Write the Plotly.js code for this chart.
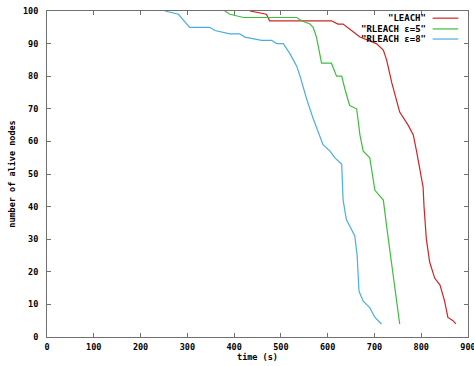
<!DOCTYPE html>
<html><head><meta charset="utf-8">
<script src="https://cdn.plot.ly/plotly-3.0.1.min.js"></script>
<style>html,body{margin:0;padding:0;background:#fff}#c{width:474px;height:366px}</style>
</head><body><div id="c"></div>
<script>
const seriesNames = ['"LEACH"', '"RLEACH \u03b5=5"', '"RLEACH \u03b5=8"'];
const seriesColors = ['#d02424', '#3cbf3c', '#4aaee0'];

const leachT = [434, 469, 476, 608, 622, 633, 651, 669, 687, 704, 719, 726, 737, 747, 754, 772, 783, 790, 797, 804, 806, 811, 818, 829, 840, 850, 857, 868, 874];
const leachV = [100, 99, 97, 97, 96, 96, 94, 92, 91, 90, 88, 85, 78, 73, 69, 65, 62, 57, 51, 46, 40, 30, 23, 18, 16, 11, 6, 5, 4];

const r5T = [380, 391, 420, 534, 544, 562, 569, 576, 587, 608, 619, 630, 637, 647, 662, 669, 676, 690, 701, 719, 726, 736, 747, 754];
const r5V = [100, 99, 98, 98, 97, 96, 95, 92, 84, 84, 80, 80, 76, 71, 70, 62, 57, 55, 45, 42, 34, 23, 12, 4];

const r8T = [252, 281, 305, 348, 359, 391, 412, 423, 459, 480, 491, 505, 519, 534, 541, 555, 569, 590, 605, 615, 630, 633, 640, 658, 663, 667, 676, 690, 701, 715];
const r8V = [100, 99, 95, 95, 94, 93, 93, 92, 91, 91, 90, 90, 87, 83, 80, 73, 67, 59, 57, 55, 53, 42, 36, 31, 25, 14, 11, 9, 6, 4];

const xTicks = [0, 100, 200, 300, 400, 500, 600, 700, 800, 900];
const yTicks = [0, 10, 20, 30, 40, 50, 60, 70, 80, 90, 100];

const xs = [leachT, r5T, r8T];
const ys = [leachV, r5V, r8V];

const traces = xs.map((x, i) => ({
  x: x, y: ys[i], type: 'scatter', mode: 'lines',
  name: seriesNames[i],
  line: {color: seriesColors[i], width: 1.2},
  showlegend: false
}));

const font = {family: 'DejaVu Sans Mono, monospace', size: 8.5, color: '#000', weight: 'bold'};

// manual gnuplot-style key (text left of sample line)
const keyY = [0.978, 0.945, 0.914];
const annotations = seriesNames.map((n, i) => ({
  xref: 'paper', yref: 'paper', x: 0.906, y: keyY[i],
  xanchor: 'right', yanchor: 'middle', text: n, showarrow: false,
  font: {family: 'DejaVu Sans Mono, monospace', size: 9, color: '#000', weight: 'bold'}
}));
const shapes = seriesNames.map((n, i) => ({
  type: 'line', xref: 'paper', yref: 'paper',
  x0: 0.916, x1: 0.977, y0: keyY[i], y1: keyY[i],
  line: {color: seriesColors[i], width: 1.2}
}));

const axisCommon = {
  showgrid: false, zeroline: false, showline: true, linecolor: '#707070', linewidth: 1,
  ticks: 'inside', ticklen: 4, tickcolor: '#707070', mirror: 'ticks',
  tickfont: font, ticklabeloverflow: 'allow'
};

const layout = {
  width: 474, height: 366,
  margin: {l: 47, r: 6, t: 11, b: 29},
  paper_bgcolor: '#fff', plot_bgcolor: '#fff',
  xaxis: Object.assign({}, axisCommon, {
    range: [0, 900], tickvals: xTicks, ticktext: xTicks.map(String),
    title: {text: 'time (s)', font: font, standoff: 2}, ticklabelstandoff: 2
  }),
  yaxis: Object.assign({}, axisCommon, {
    range: [0, 100], tickvals: yTicks, ticktext: yTicks.map(String),
    title: {text: 'number of alive nodes', font: font, standoff: 5}, ticklabelstandoff: 6
  }),
  annotations: annotations,
  shapes: shapes
};

Plotly.newPlot('c', traces, layout, {staticPlot: true, displayModeBar: false});
</script></body></html>
